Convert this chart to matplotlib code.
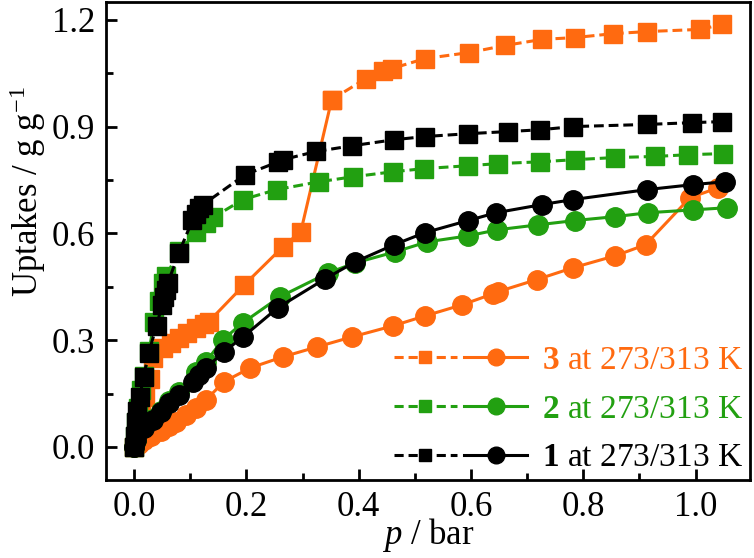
import matplotlib
matplotlib.use('Agg')
import matplotlib.pyplot as plt
from matplotlib.lines import Line2D
from matplotlib.legend_handler import HandlerTuple

# compound 3 (orange)
p3_273 = [0, 0.005, 0.012, 0.020, 0.028, 0.034, 0.051, 0.066, 0.080, 0.095, 0.110, 0.125, 0.133,
          0.196, 0.265, 0.297, 0.352, 0.413, 0.443, 0.459, 0.518, 0.597, 0.661, 0.727, 0.785,
          0.853, 0.914, 1.008, 1.048]
u3_273 = [0, 0.04, 0.09, 0.14, 0.19, 0.25, 0.278, 0.293, 0.307, 0.320, 0.333, 0.345, 0.352,
          0.455, 0.562, 0.605, 0.976, 1.035, 1.055, 1.063, 1.091, 1.108, 1.128, 1.145, 1.150,
          1.161, 1.167, 1.173, 1.187]
p3_313 = [0, 0.008, 0.017, 0.030, 0.048, 0.062, 0.075, 0.092, 0.110, 0.128, 0.160, 0.207, 0.265,
          0.326, 0.388, 0.461, 0.518, 0.584, 0.639, 0.648, 0.717, 0.781, 0.857, 0.911, 0.990, 1.040]
u3_313 = [0, 0.008, 0.018, 0.030, 0.045, 0.058, 0.070, 0.090, 0.110, 0.132, 0.183, 0.222, 0.253,
          0.281, 0.309, 0.340, 0.368, 0.399, 0.430, 0.436, 0.470, 0.503, 0.537, 0.568, 0.700, 0.728]

# compound 2 (green)
p2_273 = [0, 0.002, 0.004, 0.007, 0.012, 0.018, 0.027, 0.035, 0.045, 0.052, 0.057, 0.080, 0.110,
          0.128, 0.141, 0.194, 0.254, 0.330, 0.390, 0.461, 0.517, 0.595, 0.649, 0.723, 0.785,
          0.857, 0.928, 0.987, 1.049]
u2_273 = [0, 0.03, 0.07, 0.11, 0.16, 0.20, 0.27, 0.35, 0.41, 0.46, 0.48, 0.55, 0.605,
          0.630, 0.645, 0.695, 0.723, 0.745, 0.759, 0.773, 0.782, 0.790, 0.796, 0.801, 0.807,
          0.813, 0.816, 0.821, 0.824]
p2_313 = [0, 0.003, 0.017, 0.033, 0.048, 0.062, 0.080, 0.110, 0.128, 0.158, 0.194, 0.260, 0.346,
          0.394, 0.465, 0.522, 0.595, 0.647, 0.720, 0.785, 0.857, 0.916, 0.996, 1.056]
u2_313 = [0, 0.02, 0.055, 0.078, 0.100, 0.130, 0.155, 0.211, 0.239, 0.301, 0.349, 0.422, 0.489,
          0.517, 0.548, 0.576, 0.593, 0.610, 0.624, 0.636, 0.647, 0.658, 0.666, 0.672]

# compound 1 (black)
p1_273 = [0, 0.002, 0.004, 0.006, 0.010, 0.017, 0.026, 0.040, 0.050, 0.054, 0.057, 0.060, 0.080,
          0.104, 0.110, 0.116, 0.123, 0.198, 0.257, 0.265, 0.324, 0.388, 0.463, 0.518, 0.595,
          0.666, 0.723, 0.782, 0.914, 0.994, 1.048]
u1_273 = [0, 0.03, 0.07, 0.10, 0.14, 0.197, 0.264, 0.34, 0.40, 0.42, 0.44, 0.46, 0.546,
          0.637, 0.655, 0.670, 0.681, 0.765, 0.801, 0.807, 0.830, 0.846, 0.863, 0.872, 0.880,
          0.886, 0.891, 0.900, 0.906, 0.911, 0.914]
p1_313 = [0, 0.003, 0.017, 0.033, 0.048, 0.062, 0.080, 0.105, 0.116, 0.128, 0.160, 0.194, 0.256,
          0.340, 0.394, 0.463, 0.518, 0.595, 0.645, 0.727, 0.782, 0.914, 0.996, 1.053]
u1_313 = [0, 0.020, 0.053, 0.076, 0.098, 0.124, 0.146, 0.183, 0.202, 0.222, 0.267, 0.309, 0.391,
          0.472, 0.520, 0.568, 0.602, 0.636, 0.658, 0.681, 0.695, 0.723, 0.737, 0.745]

labels = ["$\\mathbf{3}$ at 273/313 K", "$\\mathbf{2}$ at 273/313 K", "$\\mathbf{1}$ at 273/313 K"]
ORANGE = '#ff6a10'
GREEN = '#22a011'
BLACK = '#000000'

plt.rcParams['font.family'] = ['Liberation Serif', 'DejaVu Serif']
plt.rcParams['mathtext.fontset'] = 'custom'
plt.rcParams['mathtext.rm'] = 'Liberation Serif'
plt.rcParams['mathtext.it'] = 'Liberation Serif:italic'
plt.rcParams['mathtext.bf'] = 'Liberation Serif:bold'

DASH = (0, (3.2, 1.6))
LW = 2.2
MS_SQ = 12.5
MS_CI = 14


def main():
    fig = plt.figure(figsize=(7.54, 5.58), dpi=100)
    ax = fig.add_axes([106 / 754, 78 / 558, 644 / 754, 478 / 558])

    # orange: solid low part of the 273 K isotherm, dashed above the step
    k = 17
    ax.plot(p3_273[:k], u3_273[:k], '-', color=ORANGE, lw=LW, marker='s', ms=MS_SQ, mec=ORANGE)
    ax.plot(p3_273[k - 1:], u3_273[k - 1:], color=ORANGE, ls=DASH, lw=LW, marker='s', ms=MS_SQ, mec=ORANGE)
    ax.plot(p3_313, u3_313, '-', color=ORANGE, lw=LW, marker='o', ms=MS_CI, mec=ORANGE)

    ax.plot(p2_273, u2_273, color=GREEN, ls=DASH, lw=LW, marker='s', ms=MS_SQ, mec=GREEN)
    ax.plot(p2_313, u2_313, '-', color=GREEN, lw=LW, marker='o', ms=MS_CI, mec=GREEN)

    ax.plot(p1_273, u1_273, color=BLACK, ls=DASH, lw=LW, marker='s', ms=MS_SQ, mec=BLACK)
    ax.plot(p1_313, u1_313, '-', color=BLACK, lw=LW, marker='o', ms=MS_CI, mec=BLACK)

    ax.set_xlim(-0.05, 1.097)
    ax.set_ylim(-0.093, 1.25)
    ax.set_xticks([0.0, 0.2, 0.4, 0.6, 0.8, 1.0])
    ax.set_xticks([0.1, 0.3, 0.5, 0.7, 0.9], minor=True)
    ax.set_yticks([0.0, 0.3, 0.6, 0.9, 1.2])
    ax.set_yticks([0.15, 0.45, 0.75, 1.05], minor=True)
    ax.set_xticklabels(['0.0', '0.2', '0.4', '0.6', '0.8', '1.0'])
    ax.set_yticklabels(['0.0', '0.3', '0.6', '0.9', '1.2'])
    ax.tick_params(which='both', direction='in', top=False, right=False, width=2, labelsize=25, pad=8)
    ax.tick_params(which='major', length=8)
    ax.tick_params(which='minor', length=5)
    for s in ax.spines.values():
        s.set_linewidth(2)

    fig.text(28 / 754, 1 - 192 / 558, "Uptakes / g g$^{-1}$", rotation=90,
             ha='center', va='center', fontsize=25)
    fig.text(428 / 754, 1 - 535 / 558, "$p$ / bar", ha='center', va='center', fontsize=25)

    handles = []
    for c in (ORANGE, GREEN, BLACK):
        h1 = Line2D([], [], color=c, ls=(0, (3.0, 1.6)), lw=LW, marker='s', ms=9, mec=c)
        h2 = Line2D([], [], color=c, ls='-', lw=LW, marker='o', ms=12, mec=c)
        handles.append((h1, h2))
    leg = ax.legend(handles, labels, handler_map={tuple: HandlerTuple(ndivide=None, pad=0.23)},
                    loc='lower right', frameon=False, fontsize=24, handlelength=4.0,
                    handletextpad=0.45, labelspacing=0.55, borderaxespad=0.1, borderpad=0.1,
                    numpoints=1)
    for t, c in zip(leg.get_texts(), (ORANGE, GREEN, BLACK)):
        t.set_color(c)

    fig.savefig('out.png', dpi=100)


if __name__ == "__main__":
    main()
